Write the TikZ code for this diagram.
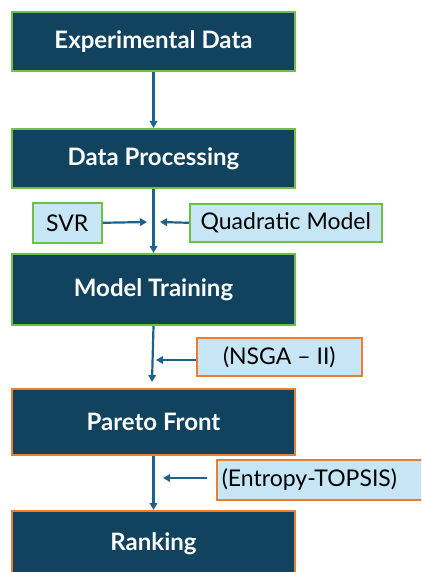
\documentclass[tikz,border=0pt]{standalone}
\usepackage{fontspec}
\setmainfont{Lato}
\usetikzlibrary{arrows.meta}
\definecolor{boxdark}{RGB}{17,67,94}
\definecolor{flowblue}{RGB}{28,98,138}
\definecolor{greenline}{RGB}{112,190,70}
\definecolor{orangeline}{RGB}{237,125,49}
\definecolor{paleblue}{RGB}{198,230,246}
\tikzset{
  stage/.style={draw, line width=2pt, fill=boxdark, text=white,
    font=\bfseries\fontsize{24}{28}\selectfont, anchor=north west,
    minimum width=283pt, inner sep=0pt},
  greenstage/.style={stage, draw=greenline},
  orangestage/.style={stage, draw=orangeline},
  method/.style={draw, line width=1.6pt, fill=paleblue, text=black,
    font=\fontsize{23}{27}\selectfont, anchor=north west, inner sep=0pt},
  flow/.style={draw=flowblue, line width=2.2pt,
    -{Triangle[length=7pt,width=7.5pt]}},
}
\begin{document}
\begin{tikzpicture}[x=1pt,y=-1pt]
  \useasboundingbox (0,0) rectangle (421,572);
  \clip (0,0) rectangle (421,572);
  % main pipeline
  \node[greenstage, minimum height=59pt] (exp) at (11,11) {Experimental Data};
  \node[greenstage, minimum height=59pt] (proc) at (11,128) {Data Processing};
  \node[greenstage, minimum height=71pt] (train) at (11,253) {Model Training};
  \node[orangestage, minimum height=66pt] (pareto) at (11,388) {Pareto Front};
  \node[orangestage, minimum height=65pt] (rank) at (11,510) {Ranking};
  % methods feeding the pipeline
  \node[method, draw=greenline, minimum width=69pt, minimum height=40pt] (svr) at (32,202) {SVR};
  \node[method, draw=greenline, minimum width=192pt, minimum height=38pt] (quad) at (189,203) {Quadratic Model};
  \node[method, draw=orangeline, minimum width=165pt, minimum height=38pt] (nsga) at (196,337) {(NSGA -- II)};
  \node[method, draw=orangeline, minimum width=225pt, minimum height=40pt,
        text width=215pt, align=left] (ent) at (216,459) {(Entropy-TOPSIS)};
  % arrow ends next to the vertical flow
  \coordinate (svrEnd) at (147,222);
  \coordinate (quadEnd) at (160,222);
  \coordinate (nsgaEnd) at (156,360);
  \coordinate (entStart) at (207,478);
  \coordinate (entEnd) at (163,478);
  \coordinate (paretoIn) at (152,382);
  % connectors
  \draw[flow] (exp.south) -- (proc.north);
  \draw[flow] (proc.south) -- (train.north);
  \draw[flow] (train.south) -- (paretoIn);
  \draw[flow] (pareto.south) -- (rank.north);
  \draw[flow] (svr.east) -- (svrEnd);
  \draw[flow] (quad.west) -- (quadEnd);
  \draw[flow] (nsga.west |- nsgaEnd) -- (nsgaEnd);
  \draw[flow] (entStart) -- (entEnd);
\end{tikzpicture}
\end{document}
